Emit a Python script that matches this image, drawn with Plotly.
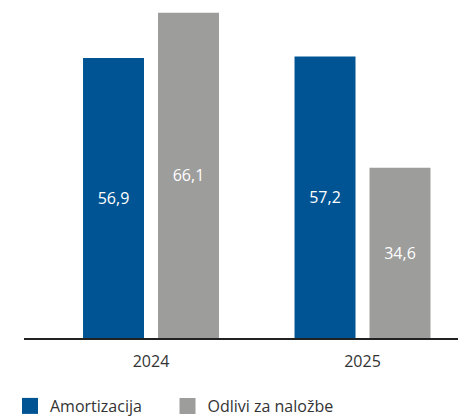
import plotly.graph_objects as go

categories = ["2024", "2025"]
amortizacija = [56.9, 57.2]
odlivi = [66.1, 34.6]
series_names = ["Amortizacija", "Odlivi za naložbe"]

BLUE = "#005493"
GRAY = "#9d9d9c"
TEXT = "#333333"
FONT = "Open Sans"

fig = go.Figure()
for name, vals, col in [(series_names[0], amortizacija, BLUE), (series_names[1], odlivi, GRAY)]:
    fig.add_trace(go.Bar(
        x=categories, y=vals, name=name, marker=dict(color=col, line=dict(width=0)),
        texttemplate="%{y:.1f}", textposition="inside", insidetextanchor="middle",
        textangle=0, insidetextfont=dict(color="white", size=16, family=FONT),
        showlegend=False, hoverinfo="skip",
    ))
# legend entries (one legend per entry to control spacing)
for name, col, lg in [(series_names[0], BLUE, "legend"), (series_names[1], GRAY, "legend2")]:
    fig.add_trace(go.Scatter(
        x=[None], y=[None], mode="markers", name=name, legend=lg,
        marker=dict(symbol="square", size=16, color=col), showlegend=True,
    ))

# page body has an 8px margin, so the figure is sized to fit the window
W, H = 458, 408
ml, mr, mt, mb = 16, 0, 0, 78
plot_w = W - ml - mr
unit = 211.5
c0 = 143 - ml
x_lo = -c0 / unit
x_hi = x_lo + plot_w / unit
plot_h = H - mt - mb
y_hi = plot_h / 4.92

legend_common = dict(orientation="h", xref="container", yref="container",
                     xanchor="left", y=1 - 398 / H, yanchor="middle",
                     font=dict(size=16, color=TEXT, family=FONT), itemwidth=30,
                     bgcolor="rgba(0,0,0,0)", borderwidth=0)

fig.update_layout(
    width=W, height=H,
    margin=dict(l=ml, r=mr, t=mt, b=mb, pad=0),
    paper_bgcolor="white", plot_bgcolor="white",
    barmode="group", bargap=0.291, bargroupgap=0.1867,
    separators=",.",
    font=dict(family=FONT, size=16, color=TEXT),
    xaxis=dict(type="category", range=[x_lo, x_hi], showgrid=False, zeroline=False,
               showline=True, linecolor="#222222", linewidth=2, ticks="",
               ticklabelstandoff=8,
               tickfont=dict(size=16, color=TEXT, family=FONT)),
    yaxis=dict(range=[0, y_hi], visible=False, showgrid=False, zeroline=False),
    legend=dict(x=2 / W, **legend_common),
    legend2=dict(x=159.5 / W, **legend_common),
)

fig.write_html("out.html")
